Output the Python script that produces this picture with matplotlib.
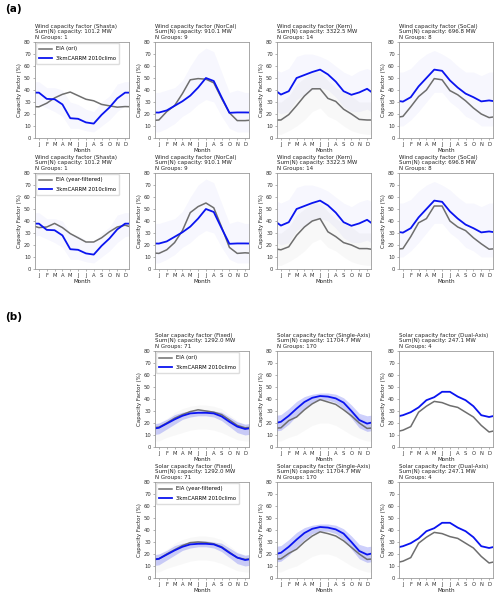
"""Monthly wind and solar capacity factors: EIA vs 3kmCARRM 2010climo."""

import matplotlib
matplotlib.use("Agg")
import matplotlib.pyplot as plt
import numpy as np

MONTHS = ["J", "F", "M", "A", "M", "J", "J", "A", "S", "O", "N", "D"]

# ---- wind (a) ----
WIND_NAMES = ["Shasta", "NorCal", "Kern", "SoCal"]
WIND_CAP = ["101.2", "910.1", "3322.5", "696.8"]
WIND_NGROUPS = [1, 9, 14, 8]

wind_model = {
    "Shasta": [37.8, 32.6, 32.3, 28, 16.5, 16, 13, 12, 19.3, 25.4, 33, 37.8],
    "NorCal": [21.2, 23, 26.8, 30.6, 35.3, 42, 50, 47.5, 34, 21, 21.3, 21.3],
    "Kern": [36.2, 39, 50, 52.5, 55, 57, 53, 47, 39, 36, 38, 41],
    "SoCal": [30.3, 34, 43, 50, 57, 56, 48, 42, 37, 34, 30.5, 31.3],
}
wind_eia_ori = {
    "Shasta": [26, 29, 33.4, 36.4, 38.3, 35.3, 32.3, 31, 28, 26.8, 25.7, 26.2],
    "NorCal": [15, 22, 27, 37, 48.5, 49.5, 49, 46, 33, 21, 14.5, 14.5],
    "Kern": [15, 19.5, 27, 35, 41, 41, 33, 30.5, 24, 20, 15.5, 15],
    "SoCal": [18, 26, 34.5, 40, 49.5, 48.5, 39.5, 36, 31, 25, 20, 17],
}
wind_eia_yf = {
    "Shasta": [34.5, 35, 38, 34.5, 29.5, 26, 22.5, 22.5, 26, 31, 35, 36.5],
    "NorCal": [13, 16, 22, 32, 47, 52, 55, 51, 35, 18, 13, 13.5],
    "Kern": [16, 18.5, 28, 35, 40, 42, 31, 27, 22, 20, 17, 17],
    "SoCal": [17, 27, 38.5, 42, 52.5, 52.5, 40, 35, 32, 26, 21, 16.5],
}
# spread of the individual model members (faint lines in the figure)
wind_model_lo = {
    "Shasta": [28, 25, 22, 18, 8, 8, 6, 5, 10, 15, 22, 27],
    "NorCal": [5, 8, 12, 18, 22, 28, 32, 30, 18, 8, 5, 5],
    "Kern": [20, 22, 32, 36, 40, 42, 40, 34, 26, 22, 22, 24],
    "SoCal": [10, 15, 22, 30, 38, 38, 30, 25, 18, 15, 10, 10],
}
wind_model_hi = {
    "Shasta": [47, 42, 42, 40, 30, 28, 24, 22, 30, 35, 45, 47],
    "NorCal": [38, 40, 42, 48, 60, 70, 75, 72, 55, 38, 40, 38],
    "Kern": [55, 58, 68, 70, 70, 68, 65, 60, 55, 52, 56, 58],
    "SoCal": [55, 58, 65, 70, 73, 70, 66, 60, 55, 55, 52, 55],
}
kern_eia_lo = [3, 6, 10, 15, 22, 25, 18, 15, 10, 6, 4, 3]
kern_eia_hi = [30, 35, 45, 50, 55, 55, 48, 42, 38, 35, 30, 30]

# ---- solar (b) ----
SOLAR_NAMES = ["Fixed", "Single-Axis", "Dual-Axis"]
SOLAR_CAP = ["1292.0", "11704.7", "247.1"]
SOLAR_NGROUPS = [71, 170, 4]

solar_model = {
    "Fixed": [16, 19.5, 23, 26, 28, 28.5, 28.5, 28, 25.5, 21, 17, 15],
    "Single-Axis": [21, 26, 32, 37.5, 41, 42.5, 42, 40.5, 37, 30, 22.5, 19.5],
    "Dual-Axis": [26.5, 29, 33, 39, 41.5, 46, 46, 42, 39, 34, 26.5, 25],
}
solar_eia_ori = {
    "Fixed": [16.5, 20, 24, 27, 29.5, 31, 30, 29, 27, 22.5, 18, 16],
    "Single-Axis": [16, 22, 25, 31, 36, 39.5, 37.5, 35.5, 31, 26, 20, 15.5],
    "Dual-Axis": [14, 17, 29, 34, 38, 37, 34.5, 33, 29, 25, 18, 12.5],
}
solar_eia_yf = {
    "Fixed": [16, 20, 23.5, 27, 29.5, 30, 29.5, 28.5, 26, 21.5, 17, 15.5],
    "Single-Axis": [16, 20.5, 24, 30, 35, 38.5, 37, 35, 31, 25.5, 20, 15.5],
    "Dual-Axis": [14, 17, 29, 34, 38, 37, 34.5, 33, 29, 25, 18, 12.5],
}
solar_model_lo = {
    "Fixed": [11, 15, 19, 23, 25, 26, 26, 25, 22, 17, 12, 10],
    "Single-Axis": [14, 19, 26, 32, 37, 39, 39, 37, 32, 24, 16, 13],
}
solar_model_hi = {
    "Fixed": [20, 23, 27, 29, 30, 31, 31, 30, 29, 25, 21, 19],
    "Single-Axis": [27, 32, 38, 42, 44, 45, 45, 44, 41, 35, 28, 26],
}
solar_eia_lo = {
    "Fixed": [5, 8, 10, 12, 14, 15, 15, 14, 12, 9, 6, 5],
    "Single-Axis": [5, 8, 10, 14, 18, 20, 20, 18, 14, 10, 7, 5],
}
solar_eia_hi = {
    "Fixed": [20, 24, 29, 32, 34, 35, 35, 34, 32, 27, 22, 19],
    "Single-Axis": [22, 28, 33, 38, 41, 43, 42, 40, 37, 31, 25, 21],
}

BLUE = "#0a14f0"
GRAY = "#6e6e6e"
X = np.arange(0, 14)  # month index with Dec/Jan wrapped onto both ends
FS = 3.8


def _wrap(v):
    v = list(v)
    return np.array([v[-1], *v, v[0]], dtype=float)


def _style(ax, title):
    ax.set_xlim(0.5, 12.5)
    ax.set_ylim(0, 80)
    ax.set_xticks(range(1, 13))
    ax.set_xticklabels(MONTHS)
    ax.set_yticks(range(0, 81, 10))
    ax.tick_params(labelsize=FS, length=1.5, width=0.4, pad=1.5,
                   color="#777777", labelcolor="#333333")
    for sp in ax.spines.values():
        sp.set_color("#9a9a9a")
        sp.set_linewidth(0.6)
    ax.set_xlabel("Month", fontsize=FS + 0.3, labelpad=0.3, color="#222222")
    ax.set_ylabel("Capacity Factor (%)", fontsize=FS + 0.2, labelpad=1.5,
                  color="#222222")
    ax.set_title(title, loc="left", fontsize=FS + 0.2, pad=2, color="#222222",
                 linespacing=1.2)


def _panel(fig, rect, title, model, eia, eia_label, legend,
           m_lo=None, m_hi=None, e_lo=None, e_hi=None, band_alpha=0.05):
    ax = fig.add_axes(rect)
    if e_lo is not None:
        ax.fill_between(X, _wrap(e_lo), _wrap(e_hi), color="#888888",
                        alpha=0.05, linewidth=0)
    if m_lo is not None:
        ax.fill_between(X, _wrap(m_lo), _wrap(m_hi), color=BLUE,
                        alpha=band_alpha, linewidth=0)
    ax.plot(X, _wrap(eia), color=GRAY, lw=1.1, label=eia_label)
    ax.plot(X, _wrap(model), color=BLUE, lw=1.3, label="3kmCARRM 2010climo")
    _style(ax, title)
    if legend:
        ax.legend(loc="upper left", fontsize=FS, handlelength=2.4,
                  handletextpad=0.7, borderpad=0.6, labelspacing=0.8,
                  framealpha=1, edgecolor="#dddddd", borderaxespad=0.25)
    return ax


W, H = 500, 596
fig = plt.figure(figsize=(W / 100, H / 100), dpi=100)

COL_LEFT = [35, 155, 277, 399]
AX_W, AX_H = 94, 96
ROW_TOP = [42, 173, 351, 482]


def _rect(col, row):
    return [COL_LEFT[col] / W, 1 - (ROW_TOP[row] + AX_H) / H, AX_W / W, AX_H / H]


for row, (eia_set, eia_label) in enumerate(
        [(wind_eia_ori, "EIA (ori)"), (wind_eia_yf, "EIA (year-filtered)")]):
    for col, name in enumerate(WIND_NAMES):
        title = (f"Wind capacity factor ({name})\n"
                 f"Sum(N) capacity: {WIND_CAP[col]} MW\n"
                 f"N Groups: {WIND_NGROUPS[col]}")
        kern = name == "Kern"
        _panel(fig, _rect(col, row), title, wind_model[name], eia_set[name],
               eia_label, legend=(col == 0),
               m_lo=wind_model_lo[name], m_hi=wind_model_hi[name],
               e_lo=kern_eia_lo if kern else None,
               e_hi=kern_eia_hi if kern else None, band_alpha=0.03)

for row, (eia_set, eia_label) in enumerate(
        [(solar_eia_ori, "EIA (ori)"), (solar_eia_yf, "EIA (year-filtered)")]):
    for col, name in enumerate(SOLAR_NAMES):
        title = (f"Solar capacity factor ({name})\n"
                 f"Sum(N) capacity: {SOLAR_CAP[col]} MW\n"
                 f"N Groups: {SOLAR_NGROUPS[col]}")
        _panel(fig, _rect(col + 1, row + 2), title, solar_model[name],
               eia_set[name], eia_label, legend=(col == 0),
               m_lo=solar_model_lo.get(name), m_hi=solar_model_hi.get(name),
               e_lo=solar_eia_lo.get(name), e_hi=solar_eia_hi.get(name),
               band_alpha=0.2)

fig.text(5 / W, 1 - 9 / H, "(a)", fontsize=7.5, fontweight="bold", va="center")
fig.text(5 / W, 1 - 317 / H, "(b)", fontsize=7.5, fontweight="bold", va="center")

fig.savefig("out.png", dpi=100)
